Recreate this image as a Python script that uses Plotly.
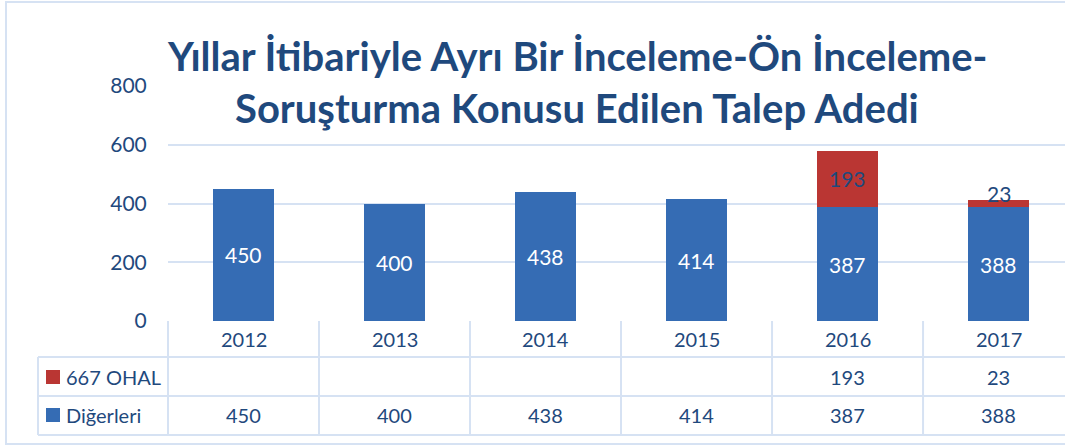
import plotly.graph_objects as go

# ---------------- data ----------------
years = ["2012", "2013", "2014", "2015", "2016", "2017"]
ohal_667 = [None, None, None, None, 193, 23]
digerleri = [450, 400, 438, 414, 387, 388]
series_ohal = "667 OHAL"
series_diger = "Diğerleri"
title_line1 = "Yıllar İtibariyle Ayrı Bir İnceleme-Ön İnceleme-"
title_line2 = "Soruşturma Konusu Edilen Talep Adedi"
y_ticks = [0, 200, 400, 600, 800]

# ---------------- layout geometry ----------------
W, H = 1065, 446
ML, MR, MT, MB = 168, 0, 86, 125
PW = W - ML - MR
PH = H - MT - MB


def pxx(px):
    return (px - ML) / PW


def pxy(py):
    return (H - MB - py) / PH


BLUE = "#356CB4"
RED = "#BA3633"
TEXT = "#1F497D"
GRID = "#D6E2F3"
FONT = "Lato"
FS = 21
FS_TABLE = 20

fig = go.Figure()
fig.add_bar(x=years, y=digerleri, name=series_diger, width=0.4,
            marker=dict(color=BLUE, line=dict(width=0)))
fig.add_bar(x=years, y=ohal_667, name=series_ohal, width=0.4,
            marker=dict(color=RED, line=dict(width=0)))

annotations = []
shapes = []

# bar value labels (category axis -> serial index)
for i, yr in enumerate(years):
    d = digerleri[i]
    annotations.append(dict(x=i, y=d / 2, xref="x", yref="y", text=str(d),
                            showarrow=False, xanchor="center", yanchor="middle",
                            font=dict(family=FONT, size=FS, color="white")))
    o = ohal_667[i]
    if o:
        annotations.append(dict(x=i, y=d + o / 2, xref="x", yref="y", text=str(o),
                                showarrow=False, xanchor="center", yanchor="middle",
                                yshift=10 if o < 50 else 0,
                                font=dict(family=FONT, size=FS, color=TEXT)))

# title (two lines)
annotations.append(dict(x=pxx(577), y=pxy(56), xref="paper", yref="paper", text=title_line1,
                        showarrow=False, xanchor="center", yanchor="middle",
                        font=dict(family=FONT, size=40, color=TEXT, weight="bold")))
annotations.append(dict(x=pxx(577), y=pxy(108), xref="paper", yref="paper", text=title_line2,
                        showarrow=False, xanchor="center", yanchor="middle",
                        font=dict(family=FONT, size=40, color=TEXT, weight="bold")))

# data table text
row_year, row_ohal, row_diger = 339, 377, 415
for i, yr in enumerate(years):
    annotations.append(dict(x=i, y=pxy(row_year), xref="x", yref="paper", text=yr,
                            showarrow=False, xanchor="center", yanchor="middle",
                            font=dict(family=FONT, size=FS_TABLE, color=TEXT)))
    if ohal_667[i]:
        annotations.append(dict(x=i, y=pxy(row_ohal), xref="x", yref="paper", text=str(ohal_667[i]),
                                showarrow=False, xanchor="center", yanchor="middle",
                                font=dict(family=FONT, size=FS_TABLE, color=TEXT)))
    annotations.append(dict(x=i, y=pxy(row_diger), xref="x", yref="paper", text=str(digerleri[i]),
                            showarrow=False, xanchor="center", yanchor="middle",
                            font=dict(family=FONT, size=FS_TABLE, color=TEXT)))

# legend keys in table
for name, color, ry in [(series_ohal, RED, row_ohal), (series_diger, BLUE, row_diger)]:
    shapes.append(dict(type="rect", xref="paper", yref="paper",
                       x0=pxx(46), x1=pxx(60), y0=pxy(ry - 7), y1=pxy(ry + 7),
                       fillcolor=color, line=dict(width=0)))
    annotations.append(dict(x=pxx(64), y=pxy(ry), xref="paper", yref="paper", text=name,
                            showarrow=False, xanchor="left", yanchor="middle",
                            font=dict(family=FONT, size=FS_TABLE, color=TEXT)))

# table grid lines
for py in [357, 396, 435]:
    shapes.append(dict(type="line", xref="paper", yref="paper",
                       x0=pxx(38), x1=pxx(W + 20), y0=pxy(py), y1=pxy(py),
                       line=dict(color=GRID, width=2)))
shapes.append(dict(type="line", xref="paper", yref="paper",
                   x0=pxx(38), x1=pxx(38), y0=pxy(357), y1=pxy(435),
                   line=dict(color=GRID, width=2)))
shapes.append(dict(type="line", xref="paper", yref="paper",
                   x0=0, x1=0, y0=pxy(321), y1=pxy(435),
                   line=dict(color=GRID, width=2)))
for i in range(1, len(years)):
    shapes.append(dict(type="line", xref="x", yref="paper",
                       x0=i - 0.5, x1=i - 0.5, y0=pxy(321), y1=pxy(435),
                       line=dict(color=GRID, width=2)))

# outer chart border
shapes.append(dict(type="rect", xref="paper", yref="paper",
                   x0=pxx(6), x1=pxx(W + 20), y0=pxy(444), y1=pxy(2),
                   line=dict(color=GRID, width=2), fillcolor="rgba(0,0,0,0)"))

fig.update_layout(
    width=W, height=H,
    margin=dict(l=ML, r=MR, t=MT, b=MB, pad=0),
    barmode="stack",
    showlegend=False,
    paper_bgcolor="white",
    plot_bgcolor="white",
    font=dict(family=FONT, color=TEXT),
    annotations=annotations,
    shapes=shapes,
    xaxis=dict(type="category", range=[-0.5, 5.44], showticklabels=False,
               showgrid=False, zeroline=False, showline=False, fixedrange=True),
    yaxis=dict(range=[0, 800], tickvals=y_ticks, showgrid=True, gridcolor=GRID, gridwidth=2,
               zeroline=False, showline=False, ticks="outside", ticklen=16,
               tickcolor="rgba(0,0,0,0)", tickfont=dict(family=FONT, size=FS, color=TEXT),
               fixedrange=True),
)

fig.write_html("out.html", config={"displayModeBar": False},
               post_script="document.body.style.margin='0';")
